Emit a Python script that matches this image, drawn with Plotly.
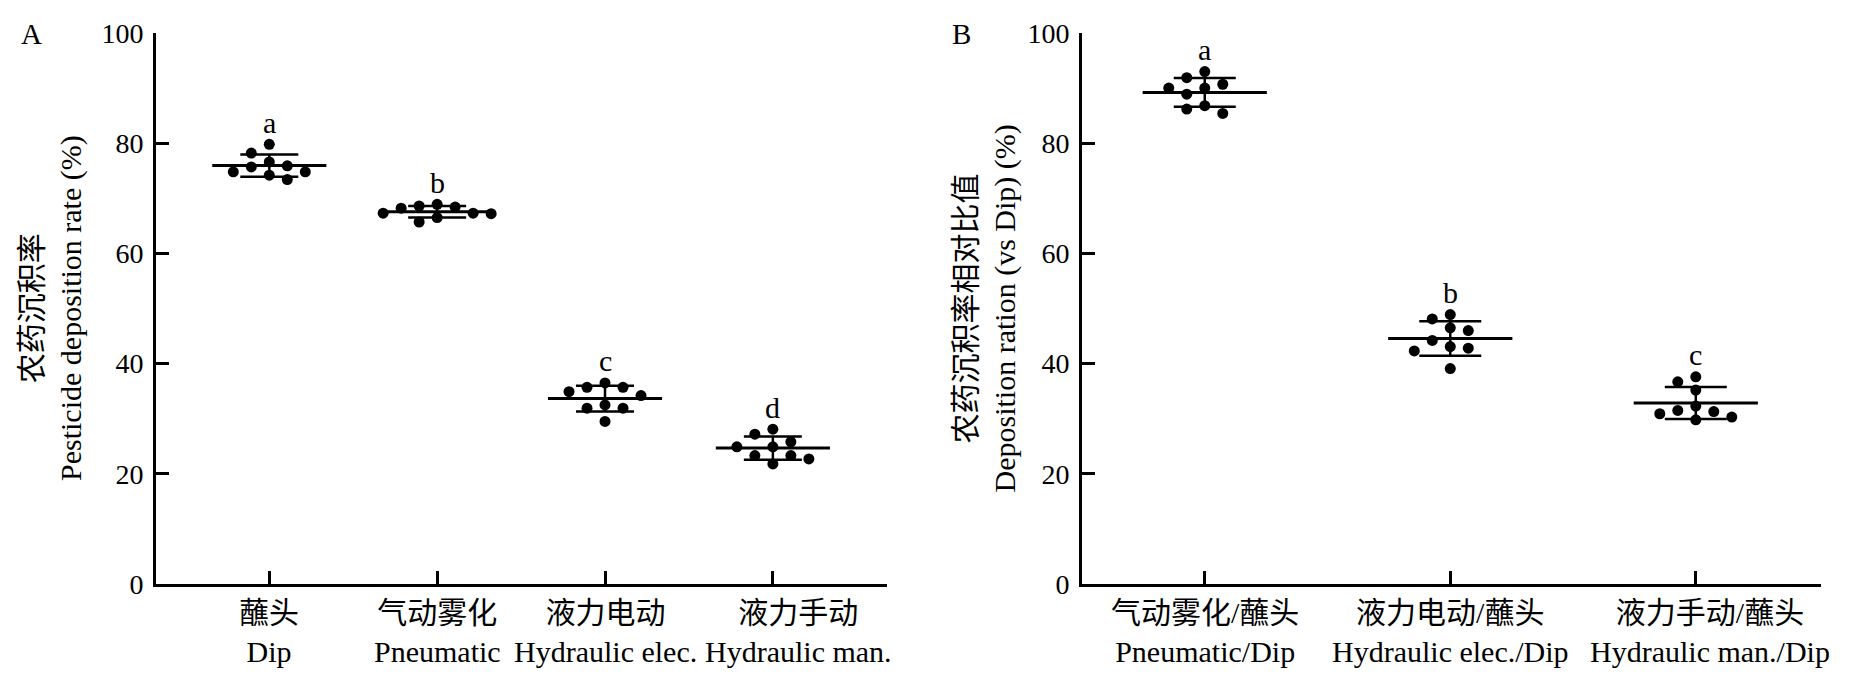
import numpy as np
import plotly.graph_objects as go

W, H = 1859, 685

# Panel A: pesticide deposition rate (%)
groups_a = ["蘸头<br>Dip", "气动雾化<br>Pneumatic", "液力电动<br>Hydraulic elec.", "液力手动<br>Hydraulic man."]
dip = [79.8, 78.2, 76.6, 75.9, 75.7, 74.8, 74.8, 74.2, 73.4]
pneumatic = [68.9, 68.6, 68.4, 68.2, 67.3, 67.3, 67.2, 66.5, 65.7]
hyd_elec = [36.5, 35.7, 35.7, 34.9, 34.2, 32.5, 31.9, 31.9, 29.5]
hyd_man = [28.1, 27.2, 25.8, 24.9, 24.9, 23.3, 23.3, 22.7, 21.8]
letters_a = ["a", "b", "c", "d"]

# Panel B: deposition ratio vs dip (%)
groups_b = ["气动雾化/蘸头<br>Pneumatic/Dip", "液力电动/蘸头<br>Hydraulic elec./Dip", "液力手动/蘸头<br>Hydraulic man./Dip"]
ratio_pneu = [93.0, 91.9, 90.7, 90.0, 90.0, 88.9, 86.8, 86.2, 85.4]
ratio_elec = [48.9, 48.1, 46.5, 46.0, 44.2, 43.1, 42.8, 42.3, 39.1]
ratio_man = [37.6, 36.7, 35.2, 32.3, 31.5, 31.3, 30.9, 30.3, 29.8]
letters_b = ["a", "b", "c"]

FONT = "Liberation Serif, Times New Roman, Noto Sans CJK SC, serif"

# page body has an 8px margin, so the figure is a bit smaller than the window
OFF = 8
FW, FH = W - 2 * OFF, H - 2 * OFF


def fx(px):
    return (px - OFF) / FW


def fy(py):
    return (FH - (py - OFF)) / FH


# plot areas in window pixels
ax_a = (156, 887)
ax_b = (1082, 1821)
y_top, y_bot = 33, 584
range_a = [-0.675, 3.68]
range_b = [-0.5, 2.51]
px_y = (y_bot - y_top) / 100.0


def swarm(values, px_x, step=18, gap=13):
    # simple column beeswarm: same column points must be gap px apart vertically
    placed, offs = [], []
    order = [0]
    for i in range(1, 12):
        order += [-i, i]
    for v in values:
        y = v * px_y
        for c in order:
            if all(abs(y - yy) >= gap for cc, yy in placed if cc == c):
                break
        placed.append((c, y))
        offs.append(c * step / px_x)
    return offs


fig = go.Figure()


def add_panel(series, letters, labels, label_shift, xa, ya, px_x, mean_half, cap):
    means = [np.mean(s) for s in series]
    sds = [np.std(s, ddof=1) for s in series]
    for i, s in enumerate(series):
        vals = sorted(s, reverse=True)
        offs = swarm(vals, px_x)
        fig.add_trace(go.Scatter(
            x=[i + o for o in offs], y=vals, mode="markers",
            marker=dict(size=11, color="black"), xaxis=xa, yaxis=ya, hoverinfo="y"))
    fig.add_trace(go.Scatter(
        x=list(range(len(series))), y=means, mode="markers",
        marker=dict(size=1, color="black"), xaxis=xa, yaxis=ya,
        error_x=dict(type="constant", value=mean_half, width=0, thickness=3, color="black"),
        error_y=dict(type="data", array=sds, width=cap, thickness=2.5, color="black")))
    for i, (s, t) in enumerate(zip(series, letters)):
        fig.add_annotation(x=i, y=max(s), xref=xa, yref=ya, text=t, showarrow=False,
                           xanchor="center", yshift=22, yanchor="middle",
                           font=dict(size=30, family=FONT, color="black"))
    # category labels (last one nudged right, as in the original figure)
    for i, lab in enumerate(labels):
        fig.add_annotation(x=i, y=0, xref=xa, yref=ya, text=lab, showarrow=False,
                           xanchor="center", yanchor="top", yshift=-10,
                           xshift=label_shift if i == len(labels) - 1 else 0,
                           font=dict(size=30, family=FONT, color="black"))


add_panel([dip, pneumatic, hyd_elec, hyd_man], letters_a, groups_a, 26, "x", "y",
          (ax_a[1] - ax_a[0]) / (range_a[1] - range_a[0]), 0.34, 29)
add_panel([ratio_pneu, ratio_elec, ratio_man], letters_b, groups_b, 14, "x2", "y2",
          (ax_b[1] - ax_b[0]) / (range_b[1] - range_b[0]), 0.253, 31)

axis_common = dict(showline=True, linewidth=3, linecolor="black", ticks="inside", ticklen=13,
                   tickwidth=2.5, tickcolor="black", showgrid=False, zeroline=False,
                   automargin=False, tickangle=0,
                   tickfont=dict(size=28, family=FONT, color="black"))
ydom = [fy(y_bot), fy(y_top)]
yticks = dict(tickvals=[0, 20, 40, 60, 80, 100], range=[0, 100], ticklabelstandoff=4)

fig.update_layout(
    template="none",
    width=FW, height=FH, margin=dict(l=0, r=0, t=0, b=0, pad=0),
    paper_bgcolor="white", plot_bgcolor="white", showlegend=False,
    xaxis=dict(axis_common, domain=[fx(ax_a[0]), fx(ax_a[1])], range=range_a, anchor="y",
               tickvals=list(range(4)), showticklabels=False),
    yaxis=dict(axis_common, domain=ydom, anchor="x", **yticks),
    xaxis2=dict(axis_common, domain=[fx(ax_b[0]), fx(ax_b[1])], range=range_b, anchor="y2",
                tickvals=list(range(3)), showticklabels=False),
    yaxis2=dict(axis_common, domain=ydom, anchor="x2", **yticks),
)

title_font = dict(size=30, family=FONT, color="black")
fig.add_annotation(x=fx(51.5), y=fy(308.5), xref="paper", yref="paper", textangle=-90,
                   xanchor="center", yanchor="middle",
                   text="农药沉积率<br>Pesticide deposition rate (%)", showarrow=False, font=title_font)
fig.add_annotation(x=fx(985), y=fy(308.5), xref="paper", yref="paper", textangle=-90,
                   xanchor="center", yanchor="middle",
                   text="农药沉积率相对比值<br>Deposition ration (vs Dip) (%)", showarrow=False, font=title_font)
fig.add_annotation(x=fx(31), y=fy(34), xref="paper", yref="paper", text="A",
                   xanchor="center", yanchor="middle",
                   showarrow=False, font=dict(size=29, family=FONT, color="black"))
fig.add_annotation(x=fx(961), y=fy(34), xref="paper", yref="paper", text="B",
                   xanchor="center", yanchor="middle",
                   showarrow=False, font=dict(size=29, family=FONT, color="black"))

fig.write_html("out.html")
